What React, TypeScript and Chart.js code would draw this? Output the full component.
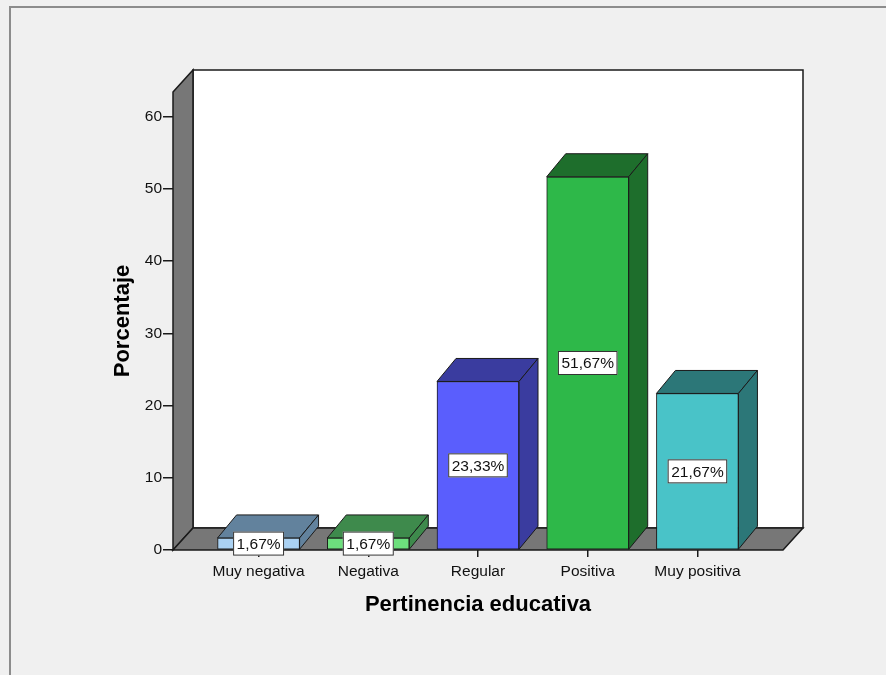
import React, { useEffect, useRef } from "react";
import { Chart, registerables } from "chart.js";

Chart.register(...registerables);

const categories = ["Muy negativa", "Negativa", "Regular", "Positiva", "Muy positiva"];
const percentages = [1.67, 1.67, 23.33, 51.67, 21.67];
const yTickValues = [0, 10, 20, 30, 40, 50, 60];
const frontColors = ["#aad1f2", "#6ddf7d", "#5a5efd", "#2eb849", "#49c3c8"];
const shadeColors = ["#62829d", "#3e8a4c", "#3a3c9f", "#1e6e2c", "#2c7778"];

const FONT = '"Liberation Sans", Arial, sans-serif';
const WALL_DX = 20;
const WALL_DY = -22;
const BAR_DX = 19;
const BAR_DY = -23;
const EDGE = "#1a1a1a";

const fmt = (v: number) => v.toFixed(2).replace(".", ",") + "%";

const framePlugin = {
  id: "frame",
  beforeDraw(chart: any) {
    const { ctx, width, height } = chart;
    ctx.save();
    ctx.fillStyle = "#f0f0f0";
    ctx.fillRect(0, 0, width, height);
    ctx.strokeStyle = "#8c8c8c";
    ctx.lineWidth = 2;
    ctx.beginPath();
    ctx.moveTo(10, height);
    ctx.lineTo(10, 7);
    ctx.lineTo(width, 7);
    ctx.stroke();
    ctx.restore();
  },
};

const poly = (ctx: any, pts: number[][], fill: string) => {
  ctx.beginPath();
  ctx.moveTo(pts[0][0], pts[0][1]);
  for (let i = 1; i < pts.length; i++) ctx.lineTo(pts[i][0], pts[i][1]);
  ctx.closePath();
  ctx.fillStyle = fill;
  ctx.fill();
  ctx.stroke();
};

const threeDPlugin = {
  id: "threeD",
  beforeDatasetsDraw(chart: any) {
    const { ctx, chartArea } = chart;
    const { left: L, right: R, top: T, bottom: B } = chartArea;
    ctx.save();
    ctx.strokeStyle = EDGE;
    ctx.lineWidth = 1.5;
    ctx.lineJoin = "miter";
    poly(ctx, [[L + WALL_DX, T + WALL_DY], [R + WALL_DX, T + WALL_DY], [R + WALL_DX, B + WALL_DY], [L + WALL_DX, B + WALL_DY]], "#ffffff");
    poly(ctx, [[L, T], [L + WALL_DX, T + WALL_DY], [L + WALL_DX, B + WALL_DY], [L, B]], "#777777");
    poly(ctx, [[L, B], [L + WALL_DX, B + WALL_DY], [R + WALL_DX, B + WALL_DY], [R, B]], "#777777");
    ctx.restore();
  },
  afterDatasetsDraw(chart: any) {
    const { ctx } = chart;
    const meta = chart.getDatasetMeta(0);
    ctx.save();
    ctx.strokeStyle = EDGE;
    ctx.lineWidth = 1;
    meta.data.forEach((bar: any, i: number) => {
      const { x, y, base, width } = bar.getProps(["x", "y", "base", "width"], true);
      const l = x - width / 2;
      const r = x + width / 2;
      poly(ctx, [[l, y], [l + BAR_DX, y + BAR_DY], [r + BAR_DX, y + BAR_DY], [r, y]], shadeColors[i]);
      poly(ctx, [[r, y], [r + BAR_DX, y + BAR_DY], [r + BAR_DX, base + BAR_DY], [r, base]], shadeColors[i]);
    });
    ctx.font = `15.5px ${FONT}`;
    ctx.textAlign = "center";
    ctx.textBaseline = "middle";
    meta.data.forEach((bar: any, i: number) => {
      const { x, y, base } = bar.getProps(["x", "y", "base"], true);
      const text = fmt(percentages[i]);
      const tw = ctx.measureText(text).width;
      const bw = tw + 7;
      const bh = 24;
      const cy = (y + base) / 2;
      ctx.fillStyle = "#ffffff";
      ctx.fillRect(x - bw / 2, cy - bh / 2, bw, bh);
      ctx.strokeStyle = "#333333";
      ctx.strokeRect(x - bw / 2 + 0.5, cy - bh / 2 + 0.5, bw - 1, bh - 1);
      ctx.fillStyle = "#111111";
      ctx.fillText(text, x, cy + 1);
    });
    ctx.restore();
  },
};

export default function App() {
  const ref = useRef<HTMLCanvasElement | null>(null);
  useEffect(() => {
    if (!ref.current) return;
    const chart = new Chart(ref.current, {
      type: "bar",
      data: {
        datasets: [
          {
            data: percentages.map((v, i) => ({ x: i, y: v })),
            backgroundColor: frontColors,
            borderColor: EDGE,
            borderWidth: 1,
            borderSkipped: false,
            barThickness: 82,
          } as any,
        ],
      },
      options: {
        animation: false,
        responsive: false,
        devicePixelRatio: 1,
        layout: { padding: { left: 0, top: 92, right: 103, bottom: 0 } },
        plugins: { legend: { display: false }, tooltip: { enabled: false } },
        scales: {
          x: {
            type: "linear",
            min: -0.78,
            max: 4.78,
            offset: false,
            afterBuildTicks: (s: any) => {
              s.ticks = categories.map((_, i) => ({ value: i }));
            },
            afterFit: (s: any) => {
              s.height = 125;
            },
            ticks: {
              callback: (v: any) => categories[v] ?? "",
              font: { family: FONT, size: 15.5 },
              color: "#111111",
              padding: 5,
              autoSkip: false,
              maxRotation: 0,
            },
            grid: { offset: false, drawOnChartArea: false, drawTicks: true, tickLength: 7, color: EDGE, lineWidth: 1.5 },
            border: { display: false },
            title: {
              display: true,
              text: "Pertinencia educativa",
              font: { family: FONT, size: 22, weight: "bold" },
              color: "#000000",
              padding: { top: 0, bottom: 57 },
            },
          },
          y: {
            type: "linear",
            min: 0,
            max: 63.4,
            afterBuildTicks: (s: any) => {
              s.ticks = yTickValues.map((v) => ({ value: v }));
            },
            afterFit: (s: any) => {
              s.width = 173;
            },
            ticks: {
              font: { family: FONT, size: 15.5 },
              color: "#111111",
              padding: 1,
            },
            grid: { drawOnChartArea: false, drawTicks: true, tickLength: 10, color: EDGE, lineWidth: 1.5 },
            border: { display: false },
            title: {
              display: true,
              text: "Porcentaje",
              font: { family: FONT, size: 22, weight: "bold" },
              color: "#000000",
              padding: { top: 110, bottom: 0 },
            },
          },
        },
      } as any,
      plugins: [framePlugin, threeDPlugin],
    });
    return () => chart.destroy();
  }, []);
  return (
    <div style={{ position: "absolute", left: 0, top: 0, width: 886, height: 675 }}>
      <canvas ref={ref} width={886} height={675} />
    </div>
  );
}
